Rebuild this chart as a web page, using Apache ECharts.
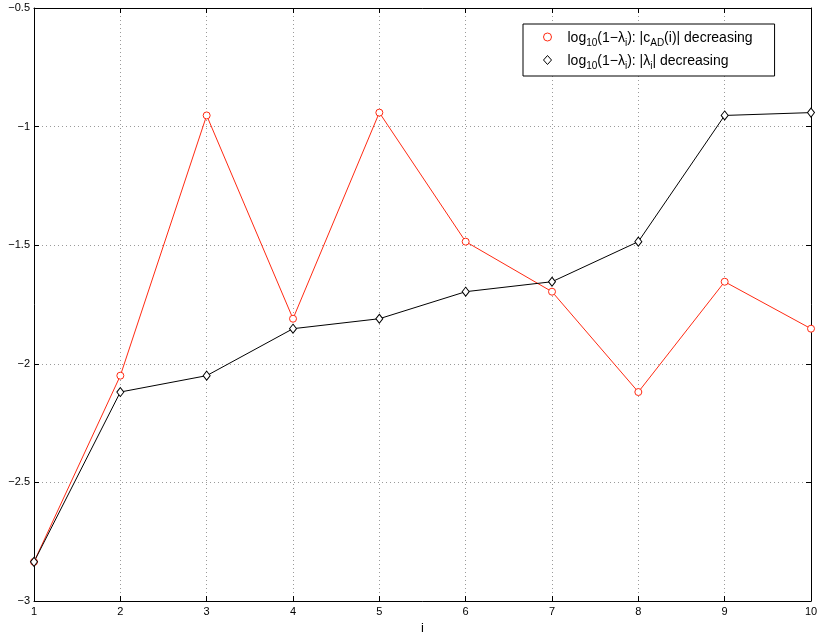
<!DOCTYPE html>
<html>
<head>
<meta charset="utf-8">
<title>log10(1-lambda)</title>
<script src="https://cdn.jsdelivr.net/npm/echarts@6/dist/echarts.min.js"></script>
<style>
  html, body { margin: 0; padding: 0; background: #fff; }
  #main { width: 817px; height: 632px; }
</style>
</head>
<body>
<div id="main"></div>
<script>
// x positions
var idx = [1, 2, 3, 4, 5, 6, 7, 8, 9, 10];
// log10(1-lambda_i), |c_AD(i)| decreasing
var byCad = [-2.835, -2.05, -0.953, -1.81, -0.941, -1.485, -1.696, -2.119, -1.654, -1.852];
// log10(1-lambda_i), |lambda_i| decreasing
var byLambda = [-2.835, -2.119, -2.05, -1.852, -1.81, -1.696, -1.654, -1.485, -0.953, -0.941];

var red = '#ff2a12';
var font = '"Liberation Sans", Arial, sans-serif';

function pairs(ys) {
    return idx.map(function (x, i) { return [x, ys[i]]; });
}

var chart = echarts.init(document.getElementById('main'));

var gridLine = { show: true, lineStyle: { color: '#9a9a9a', type: [1, 3], width: 1 } };
var tickIn = { show: true, inside: true, length: 5, lineStyle: { color: '#000' } };

var option = {
    animation: false,
    backgroundColor: '#fff',
    textStyle: { fontFamily: font },
    grid: { left: 34, right: 6, top: 8, bottom: 31, containLabel: false, outerBoundsMode: 'none' },
    xAxis: [{
        type: 'value', min: 1, max: 10, interval: 1,
        name: 'i', nameLocation: 'middle', nameGap: 17,
        nameTextStyle: { fontSize: 13, color: '#000', fontFamily: font },
        axisLine: { show: true, lineStyle: { color: '#000', width: 1 } },
        axisTick: tickIn,
        axisLabel: { color: '#000', fontSize: 11, margin: 5, fontFamily: font },
        splitLine: gridLine
    }, {
        type: 'value', min: 1, max: 10, interval: 1, position: 'top',
        axisLine: { show: true, lineStyle: { color: '#000', width: 1 } },
        axisTick: tickIn,
        axisLabel: { show: false },
        splitLine: { show: false }
    }],
    yAxis: [{
        type: 'value', min: -3, max: -0.5, interval: 0.5,
        axisLine: { show: true, lineStyle: { color: '#000', width: 1 } },
        axisTick: tickIn,
        axisLabel: {
            color: '#000', fontSize: 11, margin: 4, fontFamily: font,
            formatter: function (v) { return String(v).replace('-', '\u2212'); }
        },
        splitLine: gridLine
    }, {
        type: 'value', min: -3, max: -0.5, interval: 0.5, position: 'right',
        axisLine: { show: true, lineStyle: { color: '#000', width: 1 } },
        axisTick: tickIn,
        axisLabel: { show: false },
        splitLine: { show: false }
    }],
    legend: {
        left: 523, top: 24,
        orient: 'vertical',
        backgroundColor: '#fff',
        borderColor: '#000', borderWidth: 1,
        padding: [7, 22, 5, 20],
        itemGap: 6,
        itemWidth: 8, itemHeight: 9,
        textStyle: {
            fontSize: 14, color: '#000', fontFamily: font,
            padding: [0, 0, 0, 11],
            rich: {
                n: { fontSize: 14, fontFamily: font, color: '#000', lineHeight: 16, verticalAlign: 'bottom' },
                s: { fontSize: 10, fontFamily: font, color: '#000', lineHeight: 16, verticalAlign: 'bottom', padding: [0, 0, -3, 0] }
            }
        },
        data: [
            { name: 'cad', icon: 'circle', itemStyle: { color: '#fff', borderColor: red, borderWidth: 1 } },
            { name: 'lam', icon: 'diamond', itemStyle: { color: '#fff', borderColor: '#000', borderWidth: 1 } }
        ],
        formatter: function (name) {
            if (name === 'cad') {
                return '{n|log}{s|10}{n|(1\u2212\u03bb}{s|i}{n|): |c}{s|AD}{n|(i)| decreasing}';
            }
            return '{n|log}{s|10}{n|(1\u2212\u03bb}{s|i}{n|): |\u03bb}{s|i}{n|| decreasing}';
        }
    },
    series: [{
        name: 'cad',
        type: 'line',
        data: pairs(byCad),
        symbol: 'circle',
        symbolSize: 7,
        lineStyle: { color: red, width: 1 },
        itemStyle: { color: '#fff', borderColor: red, borderWidth: 1 }
    }, {
        name: 'lam',
        type: 'line',
        data: pairs(byLambda),
        symbol: 'diamond',
        symbolSize: [7, 9],
        lineStyle: { color: '#000', width: 1 },
        itemStyle: { color: '#fff', borderColor: '#000', borderWidth: 1 }
    }]
};

chart.setOption(option);
</script>
</body>
</html>
